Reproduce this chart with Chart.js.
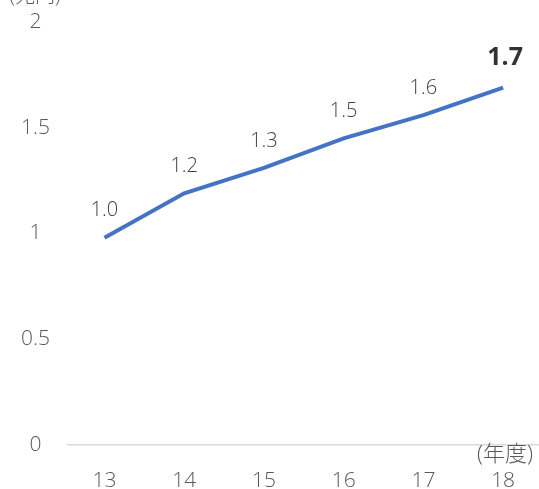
<!DOCTYPE html>
<html><head><meta charset="utf-8">
<script src="https://cdn.jsdelivr.net/npm/chart.js@4"></script>
<style>html,body{margin:0;padding:0;background:#fff}#wrap{width:539px;height:489px;position:relative}</style>
</head><body><div id="wrap"><canvas id="c"></canvas></div>
<script>
const years = ['13','14','15','16','17','18'];
const values = [0.98, 1.19, 1.31, 1.45, 1.56, 1.69];
const valueLabels = ['1.0','1.2','1.3','1.5','1.6','1.7'];
const yTicks = [0, 0.5, 1, 1.5, 2];
const yUnit = '(兆円)';
const xUnit = '(年度)';
const FONT = "'Open Sans', 'Noto Sans CJK JP', sans-serif";

const labelPlugin = {
  id: 'labels',
  afterDatasetsDraw(chart) {
    const ctx = chart.ctx;
    const meta = chart.getDatasetMeta(0);
    ctx.save();
    ctx.textAlign = 'center';
    ctx.textBaseline = 'middle';
    meta.data.forEach((pt, i) => {
      const last = i === meta.data.length - 1;
      ctx.font = (last ? 'bold 25px ' : '300 20px ') + FONT;
      ctx.fillStyle = last ? '#333333' : '#404040';
      ctx.fillText(valueLabels[i], pt.x + (last ? 2 : 0), pt.y - (last ? 30 : 27));
    });
    ctx.font = '300 20px ' + FONT;
    ctx.fillStyle = '#595959';
    ctx.textBaseline = 'bottom';
    ctx.fillText(yUnit, 35, 7);
    ctx.font = '300 22px ' + FONT;
    ctx.textBaseline = 'middle';
    ctx.fillText(xUnit, 505, 455);
    ctx.restore();
  }
};

new Chart(document.getElementById('c'), {
  type: 'line',
  data: {
    datasets: [{
      data: years.map((y, i) => ({x: Number(y), y: values[i]})),
      borderColor: '#4472C4',
      borderWidth: 4,
      pointRadius: 0,
      tension: 0,
      fill: false
    }]
  },
  options: {
    responsive: true,
    maintainAspectRatio: false,
    animation: false,
    layout: {padding: {top: 22, right: 0, left: 0, bottom: 0}},
    plugins: {legend: {display: false}, tooltip: {enabled: false}},
    scales: {
      x: {
        type: 'linear',
        min: 12.53,
        max: 18.45,
        afterBuildTicks: s => { s.ticks = years.map(v => ({value: Number(v)})); },
        afterFit: s => { s.height = 44; s.paddingLeft = 0; s.paddingRight = 0; },
        grid: {display: false, drawTicks: false},
        border: {display: false},
        ticks: {
          callback: v => String(v),
          padding: 23,
          color: '#595959',
          font: {family: FONT, size: 21, weight: 300}
        }
      },
      y: {
        min: 0,
        max: 2,
        afterBuildTicks: s => { s.ticks = yTicks.map(v => ({value: v})); },
        afterFit: s => { s.width = 67; s.paddingTop = 0; s.paddingBottom = 0; },
        grid: {
          drawTicks: false,
          color: c => c.tick && c.tick.value === 0 ? '#d9d9d9' : 'rgba(0,0,0,0)',
          lineWidth: 1.5
        },
        border: {display: false},
        ticks: {
          callback: v => String(v),
          crossAlign: 'center',
          padding: 17,
          color: '#595959',
          font: {family: FONT, size: 21, weight: 300}
        }
      }
    }
  },
  plugins: [labelPlugin]
});
</script></body></html>
